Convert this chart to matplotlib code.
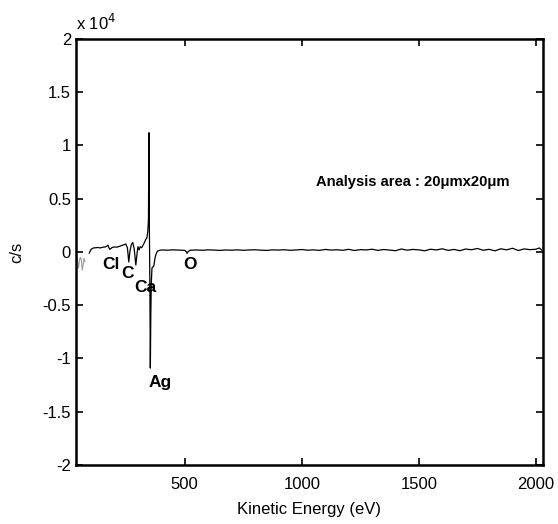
import matplotlib
matplotlib.use("Agg")
import matplotlib.pyplot as plt
import numpy as np

plt.rcParams['font.family'] = ['Liberation Sans', 'DejaVu Sans']

# low-energy start piece (drawn faint)
e_start = [38, 42, 46, 50, 54, 58, 62, 66, 70, 74]
c_start = [-300, -900, -1500, -800, -500, -700, -1700, -1200, -600, -900]

# main spectrum, kinetic energy (eV) vs c/s
energy = [92, 100, 110, 120, 130, 140, 150, 160, 168, 172, 176, 180, 190, 200,
          210, 220, 230, 240, 248, 255, 261, 266, 272, 278, 284, 291, 296, 300,
          305, 310, 316, 321, 328, 334, 338, 342, 345, 347, 349, 351, 353, 355,
          357, 360, 364, 368, 372, 376, 380, 385, 392, 400,
          425, 450, 475, 500, 505, 510, 515, 525, 550, 575, 600, 625, 650, 675,
          700, 725, 750, 775, 800, 825, 850, 875, 900, 925, 950, 975, 1000,
          1025, 1050, 1075, 1100, 1125, 1150, 1175, 1200, 1225, 1250, 1275,
          1300, 1325, 1350, 1375, 1400, 1425, 1450, 1475, 1500, 1525, 1550,
          1575, 1600, 1625, 1650, 1675, 1700, 1725, 1750, 1775, 1800, 1825,
          1850, 1875, 1900, 1925, 1950, 1975, 2000, 2015, 2025]
counts = [-100, 250, 380, 400, 420, 380, 450, 470, 560, 650, 400, 250, 420, 480,
          450, 520, 600, 680, 750, 400, -940, 100, 700, 900, 300, -1220, -200, 500,
          200, 500, 400, 600, 900, 1200, 1300, 1900, 3000, 11200, 2000, -3000, -10900, -6000,
          -3000, -1500, -1400, -1300, -700, -300, -50, 100, 150, 190,
          170, 200, 180, 150, 60, -120, 60, 170, 190, 160, 200, 180, 150, 190,
          170, 200, 160, 190, 210, 170, 150, 200, 180, 210, 160, 190, 230,
          170, 200, 150, 240, 180, 210, 160, 250, 140, 220, 190,
          260, 150, 230, 180, 120, 280, 170, 240, 200, 110, 260,
          190, 300, 150, 240, 120, 280, 210, 330, 160, 250, 110,
          300, 200, 350, 140, 290, 220, 260, 380, 180]

labels = ['Cl', 'C', 'Ca', 'Ag', 'O']
label_e = [185, 255, 330, 393, 521]
label_c = [-1200, -2000, -3300, -12300, -1200]

fig = plt.figure(figsize=(5.58, 5.24), dpi=100)
ax = fig.add_axes([0.136, 0.1126, 0.837, 0.8130])

ax.plot(e_start, np.array(c_start) / 1e4, color='0.6', lw=0.8)
ax.plot(energy, np.array(counts) / 1e4, color='black', lw=0.9)

for lab, xe, yc in zip(labels, label_e, label_c):
    ax.text(xe, yc / 1e4, lab, fontsize=12.5, fontweight='bold', ha='center', va='center')

ax.text(1060, 0.66, 'Analysis area : 20\u03bcmx20\u03bcm', fontsize=10.6, fontweight='bold',
        ha='left', va='center')

ax.set_xlim(35, 2030)
ax.set_ylim(-2, 2)
ax.set_xticks([500, 1000, 1500, 2000])
ax.set_yticks([-2, -1.5, -1, -0.5, 0, 0.5, 1, 1.5, 2])
ax.set_yticklabels(['-2', '-1.5', '-1', '-0.5', '0', '0.5', '1', '1.5', '2'])
ax.tick_params(direction='in', top=True, right=True, length=5, width=1.2, labelsize=12)
ax.tick_params(axis='x', pad=9)
for sp in ax.spines.values():
    sp.set_linewidth(1.8)

ax.set_xlabel('Kinetic Energy (eV)', fontsize=12, labelpad=7)
ax.set_ylabel('c/s', fontsize=12, labelpad=13)
ax.text(0.0, 1.015, 'x 10$^4$', transform=ax.transAxes, fontsize=12, ha='left', va='bottom')

fig.savefig('out.png', dpi=100)
